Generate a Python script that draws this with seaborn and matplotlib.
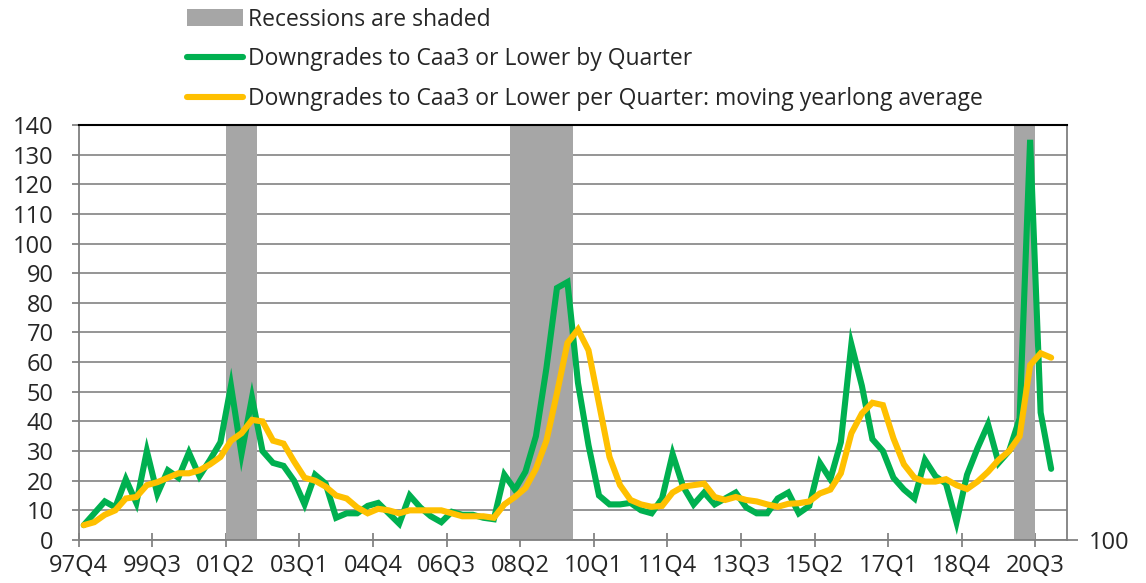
"""Caa3-or-lower downgrades per quarter, with recessions shaded."""

import matplotlib

matplotlib.use("Agg")

import matplotlib.pyplot as plt
import numpy as np
import pandas as pd
import seaborn as sns
from matplotlib.lines import Line2D
from matplotlib.patches import Patch


FIRST_YEAR = 1997
FIRST_QUARTER = 4
N_SLOTS = 94  # axis runs one empty quarter past the last observation

DOWNGRADES = [
    5, 9, 13, 11, 20.5, 12.5, 30, 15.5, 23.5, 21,
    29.5, 21.5, 27, 33, 52, 29, 48, 30, 26, 25,
    20, 12, 22, 19, 7.5, 9, 9, 11.5, 12.5, 9,
    5.5, 15, 11, 8, 6, 9.5, 8.5, 8.5, 7.5, 7,
    22, 17, 23, 35, 58, 85, 87, 53, 32, 15,
    12, 12, 12.5, 10, 9, 14, 29, 18, 12, 16,
    12, 14, 16, 11, 9, 9, 14, 16, 9, 11.5,
    26, 20.5, 33, 66, 52, 34, 30, 21, 17, 14,
    27, 21.5, 19, 6, 22, 31, 39, 26, 30, 41,
    135, 43, 24,
]

MOVING_AVG = [
    5, 6, 8.5, 10, 14, 14.5, 18.5, 19.5, 21, 22.5,
    22.5, 23.5, 25.5, 28, 33.5, 36, 40.5, 40, 33.5, 32.5,
    26.5, 21, 20, 18, 15, 14, 11, 9, 10.5, 10,
    9, 10, 10, 10, 10, 9, 8, 8, 8, 7.5,
    12, 14.5, 17.5, 24, 33.5, 49.5, 66.5, 71, 64, 46,
    28, 18.5, 13.5, 12, 11.2, 11.5, 16, 18, 18.5, 19,
    14.5, 13.5, 14.5, 13.5, 13, 12, 11.2, 12.2, 12.4, 13,
    15.7, 17, 22.5, 36, 42.7, 46.3, 45.5, 34.3, 25.5, 21,
    19.7, 19.7, 20.5, 18.5, 17.2, 19.7, 23, 27, 30, 35,
    59, 63, 61.5,
]

RECESSION_QUARTERS = [
    "01Q2", "01Q3", "01Q4",
    "08Q1", "08Q2", "08Q3", "08Q4", "09Q1", "09Q2",
    "20Q1", "20Q2",
]

TICK_LABELS = [
    "97Q4", "99Q3", "01Q2", "03Q1", "04Q4", "06Q3", "08Q2",
    "10Q1", "11Q4", "13Q3", "15Q2", "17Q1", "18Q4", "20Q3",
]

LEGEND_LABELS = [
    "Recessions are shaded",
    "Downgrades to Caa3 or Lower by Quarter",
    "Downgrades to Caa3 or Lower per Quarter: moving yearlong average",
]

GREEN = "#00B050"
YELLOW = "#FFC000"
GREY = "#A6A6A6"
TICK_SIZE = 17
LEGEND_SIZE = 16.5


def quarter_labels(n):
    labels = []
    year, quarter = FIRST_YEAR, FIRST_QUARTER
    for _ in range(n):
        labels.append(f"{year % 100:02d}Q{quarter}")
        quarter += 1
        if quarter > 4:
            quarter = 1
            year += 1
    return labels


def main():
    sns.set_theme(style="white")
    plt.rcParams["font.family"] = ["Open Sans", "DejaVu Sans"]

    slots = quarter_labels(N_SLOTS)
    slot_index = {label: i for i, label in enumerate(slots)}

    df = pd.DataFrame({
        "pos": np.arange(len(DOWNGRADES)) + 0.5,
        "downgrades": DOWNGRADES,
        "moving_avg": MOVING_AVG,
    })

    fig = plt.figure(figsize=(11.46, 5.83), dpi=100)
    ax = fig.add_axes([0.0685, 0.0738, 0.8625, 0.7118])

    for label in RECESSION_QUARTERS:
        i = slot_index[label]
        ax.axvspan(i, i + 1, color=GREY, lw=0, zorder=1)

    sns.lineplot(data=df, x="pos", y="downgrades", ax=ax, color=GREEN,
                 lw=4.4, solid_joinstyle="miter", zorder=3)
    sns.lineplot(data=df, x="pos", y="moving_avg", ax=ax, color=YELLOW,
                 lw=4.4, solid_joinstyle="miter", zorder=4)

    ax.set_xlim(0, N_SLOTS)
    ax.set_ylim(0, 140)
    ax.set_yticks(np.arange(0, 141, 10))
    ax.set_xticks([slot_index[t] for t in TICK_LABELS])
    ax.set_xticklabels(TICK_LABELS)
    ax.set_xlabel("")
    ax.set_ylabel("")

    ax.grid(axis="y", color="#8C8C8C", lw=1.3, zorder=0)
    ax.set_axisbelow(True)
    for side in ["left", "right", "bottom"]:
        ax.spines[side].set_color("#7F7F7F")
        ax.spines[side].set_linewidth(1.3)
    ax.spines["top"].set_color("black")
    ax.spines["top"].set_linewidth(1.5)

    ax.tick_params(axis="y", left=True, direction="out", length=5,
                   color="#7F7F7F", labelsize=TICK_SIZE, pad=13)
    ax.tick_params(axis="x", bottom=True, direction="inout", length=10,
                   color="#7F7F7F", labelsize=TICK_SIZE, pad=5)

    # secondary axis only carries the stray "100" at the bottom right
    ax2 = ax.twinx()
    ax2.set_ylim(100, 240)
    ax2.set_yticks([100])
    ax2.set_yticklabels(["100"])
    ax2.tick_params(axis="y", right=True, direction="out", length=8,
                    color="#7F7F7F", labelsize=TICK_SIZE, pad=8)
    for spine in ax2.spines.values():
        spine.set_visible(False)

    handles = [
        Patch(facecolor=GREY, edgecolor="none"),
        Line2D([], [], color=GREEN, lw=4.4),
        Line2D([], [], color=YELLOW, lw=4.4),
    ]
    fig.legend(handles, LEGEND_LABELS, loc="upper left",
               bbox_to_anchor=(0.163, 0.987), frameon=False,
               fontsize=LEGEND_SIZE, handlelength=2.45, handleheight=0.72,
               handletextpad=0.2, labelspacing=0.68, borderpad=0,
               borderaxespad=0)

    fig.savefig("out.png", dpi=100)
    plt.close(fig)


if __name__ == "__main__":
    main()
